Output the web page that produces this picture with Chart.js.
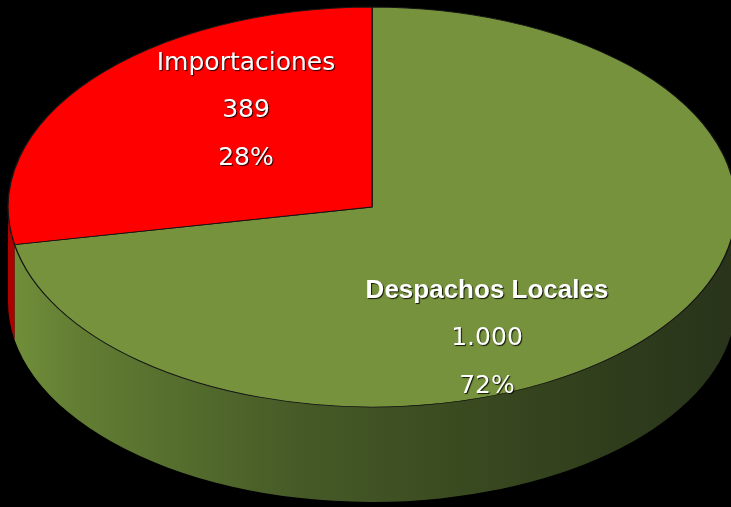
<!DOCTYPE html>
<html>
<head>
<meta charset="utf-8">
<script src="https://cdn.jsdelivr.net/npm/chart.js@4.4.1/dist/chart.umd.min.js"></script>
<style>
  html, body { margin: 0; padding: 0; background: #000; }
  #wrap { width: 731px; height: 507px; overflow: hidden; }
</style>
</head>
<body>
<div id="wrap"><canvas id="pie" width="731" height="507"></canvas></div>
<script>
const labels = ['Despachos Locales', 'Importaciones'];
const values = [1000, 389];
const valueText = ['1.000', '389'];
const colors = ['#76923c', '#ff0000'];
const sideColors = [
  ['#71903a', '#627d33', '#465a27', '#36451e', '#28331a'],
  ['#b00000', '#a00000', '#800000', '#600000', '#400000'],
];

// ellipse the flat pie gets mapped onto (fake 3d)
const view = { cx: 372, cy: 207, rx: 364, ry: 200, depth: 95 };

const pie3d = {
  id: 'pie3d',
  beforeDatasetsDraw(chart) {
    const ctx = chart.ctx;
    const meta = chart.getDatasetMeta(0);
    // side wall, only the front half (0..PI) is seen
    meta.data.forEach((arc, i) => {
      const a0 = Math.max(arc.startAngle, 0);
      const a1 = Math.min(arc.endAngle, Math.PI);
      if (a1 <= a0) return;
      const g = ctx.createLinearGradient(view.cx - view.rx, 0, view.cx + view.rx, 0);
      const st = sideColors[i];
      [0, 0.1, 0.4, 0.7, 1].forEach((p, k) => g.addColorStop(p, st[k]));
      ctx.save();
      ctx.beginPath();
      ctx.ellipse(view.cx, view.cy, view.rx, view.ry, 0, a0, a1);
      ctx.ellipse(view.cx, view.cy + view.depth, view.rx, view.ry, 0, a1, a0, true);
      ctx.closePath();
      ctx.fillStyle = g;
      ctx.fill();
      ctx.restore();
    });
    const arc = meta.data[0];
    const r = arc.outerRadius;
    ctx.save();
    ctx.translate(view.cx, view.cy);
    ctx.scale(view.rx / r, view.ry / r);
    ctx.translate(-arc.x, -arc.y);
  },
  afterDatasetsDraw(chart) {
    const ctx = chart.ctx;
    ctx.restore();
    const total = values.reduce((a, b) => a + b, 0);
    const pos = chart.options.plugins.pie3d.labelPos;
    ctx.save();
    ctx.textAlign = 'center';
    ctx.textBaseline = 'middle';
    ctx.fillStyle = '#ffffff';
    ctx.shadowColor = 'rgba(0,0,0,0.85)';
    ctx.shadowOffsetX = 1;
    ctx.shadowOffsetY = 1;
    ctx.shadowBlur = 1;
    labels.forEach((lab, i) => {
      const [x, y] = pos[i];
      ctx.font = i === 0 ? 'bold 26px "Liberation Sans", Arial, sans-serif'
                         : '25px "DejaVu Sans", sans-serif';
      ctx.fillText(lab, x, y);
      ctx.font = '25px "DejaVu Sans", sans-serif';
      ctx.fillText(valueText[i], x, y + 47);
      ctx.fillText(Math.round(values[i] / total * 100) + '%', x, y + 95);
    });
    ctx.restore();
  },
};

new Chart(document.getElementById('pie'), {
  type: 'pie',
  data: {
    labels: labels,
    datasets: [{
      data: values,
      backgroundColor: colors,
      borderColor: '#151515',
      borderWidth: 1,
      clip: false,
    }],
  },
  options: {
    responsive: false,
    animation: false,
    layout: { padding: 0 },
    plugins: {
      legend: { display: false },
      tooltip: { enabled: false },
      pie3d: { labelPos: [[487, 291], [246, 63]] },
    },
  },
  plugins: [pie3d],
});
</script>
</body>
</html>
